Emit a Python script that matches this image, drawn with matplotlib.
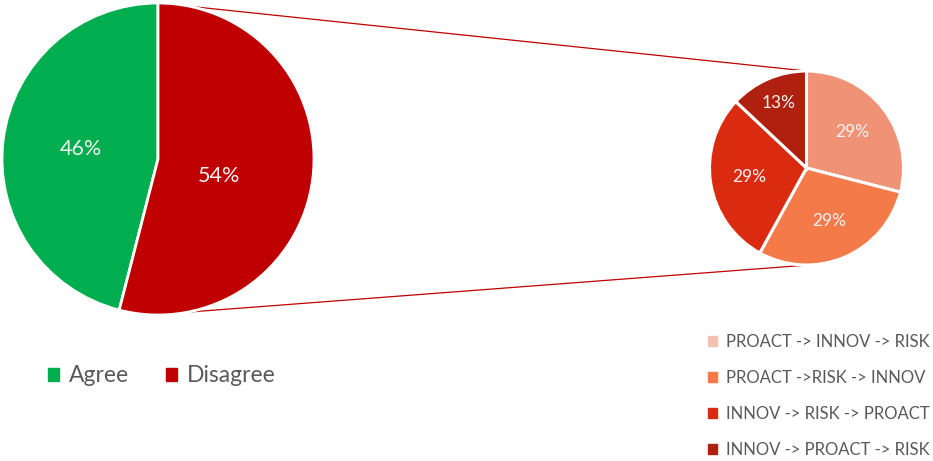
import matplotlib
matplotlib.use("Agg")
from matplotlib import pyplot as plt
from matplotlib.patches import Patch

plt.rcParams['font.family'] = ['Lato', 'DejaVu Sans']

# main split
mainLabels = ["Agree", "Disagree"]
mainVals = [46, 54]
mainColors = ["#00AD4F", "#C00000"]

# breakdown of the disagree group
subLabels = ["PROACT -> INNOV -> RISK", "PROACT ->RISK -> INNOV",
             "INNOV -> RISK -> PROACT", "INNOV -> PROACT -> RISK"]
subVals = [29, 29, 29, 13]
subColors = ["#EF9276", "#F57A4A", "#DA2B10", "#B0200E"]
subLegendColors = ["#F4C0B0", "#F57A4A", "#DA2B10", "#B0200E"]

W, H = 933, 461
fig = plt.figure(figsize=(W / 100, H / 100), dpi=100)
ax = fig.add_axes([0, 0, 1, 1])

bigC, bigR = (158, 302), 156
smallC, smallR = (806.5, 293), 97

wedges1, _, pct1 = ax.pie(mainVals, colors=mainColors, center=bigC, radius=bigR,
                          startangle=90, counterclock=True,
                          autopct=lambda p: "%d%%" % round(p), pctdistance=0.5,
                          wedgeprops=dict(edgecolor="white", linewidth=2),
                          textprops=dict(color="#F2F2F2", fontsize=15.5), frame=True)
pct1[1].set_position((bigC[0] + 0.39 * bigR, bigC[1] - 0.11 * bigR))

wedges2, _, pct2 = ax.pie(subVals, colors=subColors, center=smallC, radius=smallR,
                          startangle=90, counterclock=False,
                          autopct=lambda p: "%d%%" % round(p), pctdistance=0.6,
                          wedgeprops=dict(edgecolor="white", linewidth=2.2),
                          textprops=dict(color="#F2F2F2", fontsize=12.5), frame=True)
pct2[3].set_position((smallC[0] - 0.29 * smallR, smallC[1] + 0.67 * smallR))

ax.set_xlim(0, W)
ax.set_ylim(0, H)
ax.set_aspect('equal')
ax.axis('off')

# connector lines between the two pies
ax.plot([bigC[0], smallC[0]], [bigC[1] + bigR, smallC[1] + smallR],
        color="#C00000", linewidth=0.9, zorder=0)
ax.plot([bigC[0] - 8, smallC[0] + 2], [bigC[1] - bigR, smallC[1] - smallR],
        color="#C00000", linewidth=0.9, zorder=0)

h1 = [Patch(color=c) for c in mainColors]
leg1 = ax.legend(h1, mainLabels, ncol=2, frameon=False, loc="center left",
                 bbox_to_anchor=(39 / W, 1 - 376 / H), fontsize=16.5,
                 labelcolor="#595959", handlelength=0.47, handleheight=0.47,
                 handletextpad=0.45, columnspacing=1.6, borderaxespad=0)
ax.add_artist(leg1)

h2 = [Patch(color=c) for c in subLegendColors]
ax.legend(h2, subLabels, frameon=False, loc="upper right",
          bbox_to_anchor=(936 / W, 1 - 327 / H), fontsize=12,
          labelcolor="#595959", handlelength=0.55, handleheight=0.55,
          handletextpad=0.5, labelspacing=1.2, borderaxespad=0)

fig.savefig("out.png", dpi=100)
